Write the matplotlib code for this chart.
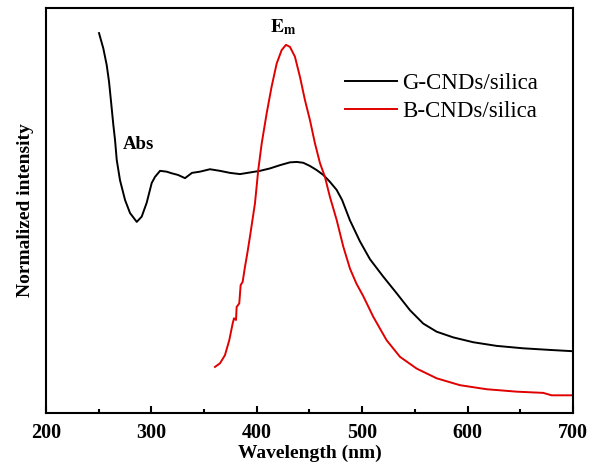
import matplotlib
matplotlib.use("Agg")
import matplotlib.pyplot as plt
from matplotlib.ticker import MultipleLocator

plt.rcParams['font.family'] = ['Liberation Serif', 'DejaVu Serif']

# G-CNDs/silica (absorption) - wavelength (nm), normalized intensity
g_wl = [250.3, 254.4, 257.6, 259.8, 261.7, 263.9, 265.5, 267.1, 270.2, 275.0, 279.7,
        286.1, 290.8, 295.5, 300.3, 303.4, 308.2, 314.5, 319.3, 325.2, 331.9, 338.5,
        346.1, 355.6, 365.1, 374.6, 384.1, 393.5, 403.0, 412.5, 422.0, 431.5, 437.9,
        444.1, 450.5, 456.8, 463.1, 469.4, 475.8, 481.0, 488.4, 497.9, 507.4, 520.0,
        532.7, 545.4, 558.0, 570.7, 586.4, 605.4, 627.6, 652.9, 678.2, 698.8]
g_val = [0.938, 0.900, 0.859, 0.818, 0.769, 0.711, 0.674, 0.625, 0.575, 0.526, 0.494,
         0.472, 0.485, 0.519, 0.568, 0.583, 0.598, 0.596, 0.592, 0.588, 0.580, 0.593,
         0.596, 0.602, 0.598, 0.593, 0.590, 0.594, 0.598, 0.604, 0.612, 0.619, 0.620,
         0.618, 0.610, 0.600, 0.588, 0.571, 0.551, 0.526, 0.476, 0.424, 0.380, 0.337,
         0.296, 0.254, 0.221, 0.201, 0.187, 0.175, 0.166, 0.160, 0.156, 0.153]

# B-CNDs/silica (emission)
b_wl = [360.3, 365.1, 369.8, 373.9, 377.1, 378.4, 380.3, 380.9, 383.4, 384.7, 386.6,
        388.8, 391.0, 393.5, 398.3, 401.4, 404.7, 409.4, 414.1, 418.9, 423.6, 427.7,
        431.5, 436.2, 441.0, 445.7, 450.5, 455.2, 460.0, 464.7, 469.4, 475.8, 482.1,
        488.4, 494.5, 501.0, 510.5, 523.2, 535.9, 551.7, 570.7, 592.8, 618.1, 646.6,
        671.8, 679.8, 698.8]
b_val = [0.114, 0.123, 0.143, 0.180, 0.221, 0.234, 0.230, 0.262, 0.271, 0.316, 0.324,
         0.361, 0.394, 0.435, 0.518, 0.600, 0.666, 0.740, 0.806, 0.863, 0.896, 0.909,
         0.904, 0.880, 0.830, 0.773, 0.723, 0.666, 0.617, 0.583, 0.534, 0.477, 0.411,
         0.357, 0.320, 0.289, 0.238, 0.180, 0.139, 0.110, 0.086, 0.069, 0.059, 0.053,
         0.050, 0.044, 0.044]

series_labels = ["G-CNDs/silica", "B-CNDs/silica"]
x_ticks = [200, 300, 400, 500, 600, 700]

fig = plt.figure(figsize=(5.9, 4.7), dpi=100)
ax = fig.add_axes([0.078, 0.121, 0.893, 0.862])

ax.plot(g_wl, g_val, color='black', lw=1.4, label=series_labels[0])
ax.plot(b_wl, b_val, color='#e00000', lw=1.4, label=series_labels[1])

ax.set_xlim(200, 700)
ax.set_ylim(0, 1)
ax.set_xticks(x_ticks)
ax.xaxis.set_minor_locator(MultipleLocator(50))
ax.set_yticks([])
ax.tick_params(axis='x', which='major', direction='in', length=5, width=1.5,
               labelsize=14.5, pad=7)
ax.tick_params(axis='x', which='minor', direction='in', length=3, width=1.5)
for lab in ax.get_xticklabels():
    lab.set_fontweight('bold')
for s in ax.spines.values():
    s.set_linewidth(1.5)

ax.set_xlabel("Wavelength (nm)", fontsize=14, fontweight='bold', labelpad=1)
ax.set_ylabel("Normalized intensity", fontsize=14, fontweight='bold', labelpad=9)

ax.text(273, 0.662, "Abs", fontsize=13.5, fontweight='bold', ha='left', va='center')
ax.text(425, 0.952, r"$\mathbf{E}_{\mathbf{m}}$", fontsize=14, ha='center', va='center',
        math_fontfamily='stix')

ax.legend(loc='upper left', bbox_to_anchor=(0.567, 0.84), frameon=False,
          fontsize=16.5, handlelength=2.27, handletextpad=0.22, labelspacing=0.32,
          borderpad=0, borderaxespad=0)

fig.savefig("out.png", dpi=100)
